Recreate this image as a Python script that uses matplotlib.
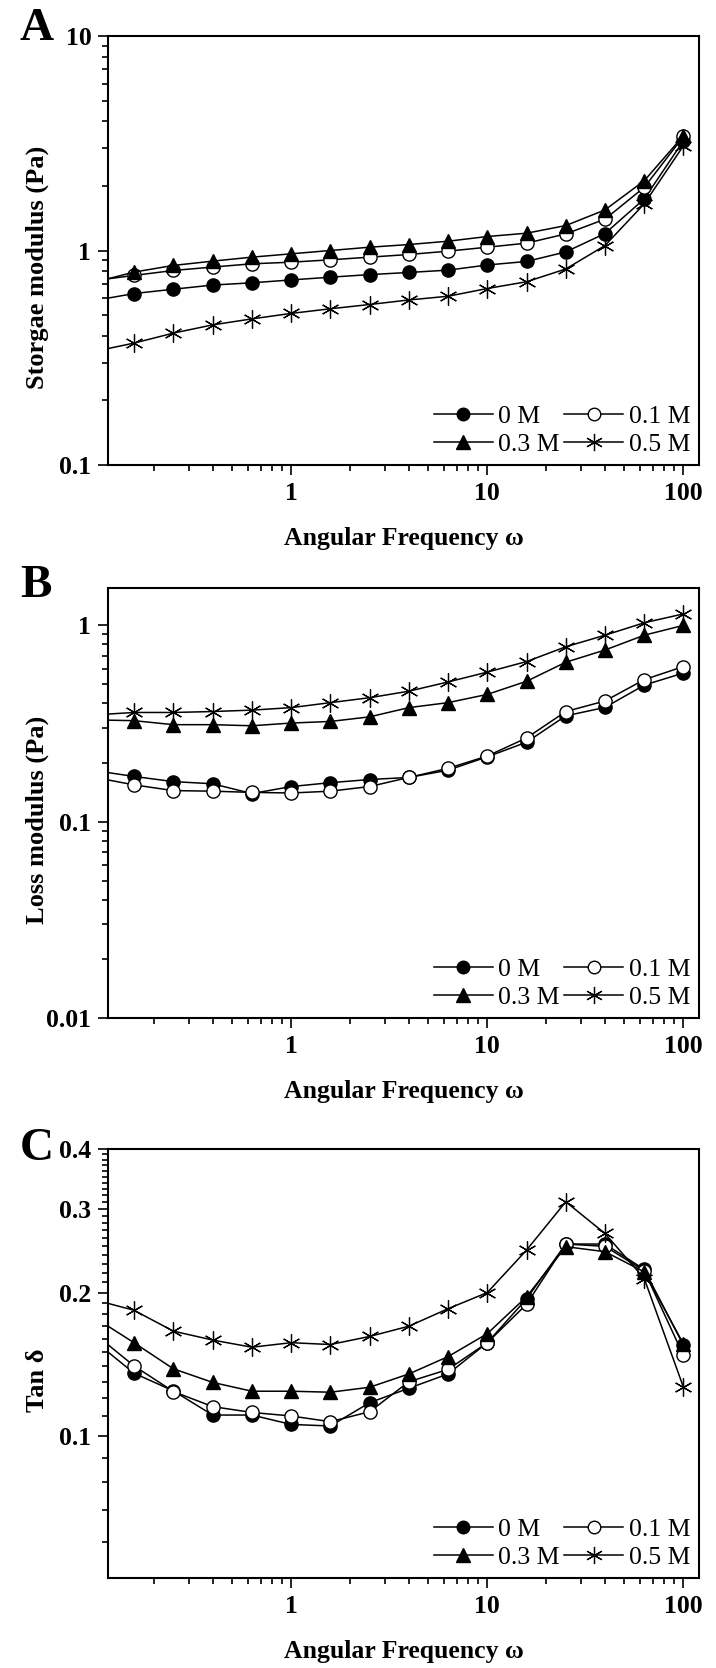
import matplotlib
matplotlib.use("Agg")
import matplotlib.pyplot as plt
from matplotlib.ticker import FixedLocator, FixedFormatter, NullFormatter

plt.rcParams['font.family'] = ['Liberation Serif', 'DejaVu Serif']

# ---------------- data ----------------
freq = [0.1, 0.158, 0.251, 0.398, 0.631, 1.0, 1.585, 2.512, 3.981, 6.31,
        10.0, 15.85, 25.12, 39.81, 63.1, 100.0]
labels = ["0 M", "0.1 M", "0.3 M", "0.5 M"]

# Storage modulus (Pa)
g1_0M = [0.585, 0.63, 0.66, 0.69, 0.707, 0.729, 0.751, 0.772, 0.79, 0.81,
         0.856, 0.889, 0.985, 1.20, 1.74, 3.25]
g1_01M = [0.725, 0.765, 0.807, 0.837, 0.867, 0.882, 0.905, 0.931, 0.958, 0.993,
          1.036, 1.082, 1.195, 1.40, 1.97, 3.40]
g1_03M = [0.712, 0.793, 0.852, 0.892, 0.931, 0.965, 1.0, 1.036, 1.066, 1.105,
          1.162, 1.204, 1.307, 1.546, 2.115, 3.43]
g1_05M = [0.339, 0.37, 0.412, 0.45, 0.48, 0.509, 0.535, 0.56, 0.588, 0.612,
          0.665, 0.715, 0.82, 1.055, 1.65, 3.08]

# Loss modulus (Pa)
g2_0M = [0.182, 0.170, 0.160, 0.156, 0.139, 0.151, 0.158, 0.164, 0.168, 0.183,
         0.214, 0.254, 0.346, 0.382, 0.496, 0.572]
g2_01M = [0.168, 0.154, 0.144, 0.143, 0.141, 0.140, 0.143, 0.151, 0.168, 0.187,
          0.216, 0.267, 0.364, 0.412, 0.529, 0.617]
g2_03M = [0.33, 0.327, 0.312, 0.312, 0.308, 0.318, 0.324, 0.342, 0.381, 0.404,
          0.445, 0.519, 0.649, 0.749, 0.891, 1.0]
g2_05M = [0.35, 0.360, 0.360, 0.364, 0.370, 0.381, 0.404, 0.428, 0.462, 0.515,
          0.578, 0.654, 0.778, 0.891, 1.031, 1.144]

# Tan delta
tan_0M = [0.158, 0.1355, 0.1244, 0.1107, 0.1107, 0.1058, 0.105, 0.1175, 0.126,
          0.135, 0.157, 0.194, 0.2528, 0.2528, 0.2236, 0.155]
tan_01M = [0.1636, 0.1404, 0.124, 0.1153, 0.1121, 0.1102, 0.1072, 0.1125, 0.130,
           0.138, 0.157, 0.189, 0.2528, 0.250, 0.2222, 0.1476]
tan_03M = [0.177, 0.157, 0.1384, 0.1296, 0.1242, 0.1242, 0.1236, 0.1266, 0.135,
           0.1468, 0.164, 0.196, 0.2496, 0.2436, 0.221, 0.156]
tan_05M = [0.193, 0.1836, 0.166, 0.159, 0.1536, 0.157, 0.1556, 0.1618, 0.170,
           0.185, 0.200, 0.2455, 0.310, 0.266, 0.214, 0.1266]

x_ticks = [1, 10, 100]
x_ticklabels = ["1", "10", "100"]
xlabel = "Angular Frequency ω"

panels = [
    dict(letter="A", ylabel="Storgae modulus (Pa)", series=[g1_0M, g1_01M, g1_03M, g1_05M],
         ylim=(0.1, 10), yticks=[0.1, 1, 10], yticklabels=["0.1", "1", "10"], yminor=None),
    dict(letter="B", ylabel="Loss modulus (Pa)", series=[g2_0M, g2_01M, g2_03M, g2_05M],
         ylim=(0.01, 1.55), yticks=[0.01, 0.1, 1], yticklabels=["0.01", "0.1", "1"], yminor=None),
    dict(letter="C", ylabel="Tan δ", series=[tan_0M, tan_01M, tan_03M, tan_05M],
         ylim=(0.0504, 0.4), yticks=[0.1, 0.2, 0.3, 0.4], yticklabels=["0.1", "0.2", "0.3", "0.4"],
         yminor=[v / 100 for v in range(6, 40) if v not in (10, 20, 30)]),
]

styles = [
    dict(marker='o', markerfacecolor='black', markeredgecolor='black', markersize=9.5),
    dict(marker='o', markerfacecolor='white', markeredgecolor='black', markersize=9.5, markeredgewidth=1.0),
    dict(marker='^', markerfacecolor='black', markeredgecolor='black', markersize=10),
    dict(marker=(6, 2, 0), markerfacecolor='black', markeredgecolor='black', markersize=13, markeredgewidth=0.9),
]

W, H = 716, 1668
fig = plt.figure(figsize=(W / 100, H / 100), dpi=100)

left_px, right_px = 108, 699
tops = [36, 588, 1149]
bottoms = [465, 1018, 1578]
letter_base = [40, 597, 1160]

tick_fs = 18.5
for i, p in enumerate(panels):
    ax = fig.add_axes([left_px / W, 1 - bottoms[i] / H, (right_px - left_px) / W,
                       (bottoms[i] - tops[i]) / H])
    handles = []
    for s, lab, st in zip(p["series"], labels, styles):
        h, = ax.plot(freq, s, color='black', linewidth=1.1, label=lab, **st)
        handles.append(h)
    ax.set_xscale('log')
    ax.set_yscale('log')
    ax.set_xlim(0.1165, 120)
    ax.set_ylim(*p["ylim"])

    ax.xaxis.set_major_locator(FixedLocator(x_ticks))
    ax.xaxis.set_major_formatter(FixedFormatter(x_ticklabels))
    ax.xaxis.set_minor_formatter(NullFormatter())
    ax.yaxis.set_major_locator(FixedLocator(p["yticks"]))
    ax.yaxis.set_major_formatter(FixedFormatter(p["yticklabels"]))
    if p["yminor"] is not None:
        ax.yaxis.set_minor_locator(FixedLocator(p["yminor"]))
    ax.yaxis.set_minor_formatter(NullFormatter())

    ax.tick_params(which='both', direction='out', top=False, right=False, width=1.2)
    ax.tick_params(which='major', length=7, labelsize=tick_fs, pad=5)
    ax.tick_params(which='minor', length=4)
    for lbl in ax.get_xticklabels() + ax.get_yticklabels():
        lbl.set_fontweight('bold')
    for sp in ax.spines.values():
        sp.set_linewidth(1.5)

    ax.set_xlabel(xlabel, fontsize=18.5, fontweight='bold')
    ax.xaxis.set_label_coords(0.5, -0.145)
    ax.set_ylabel(p["ylabel"], fontsize=19, fontweight='bold')
    ax.yaxis.set_label_coords(-0.10, 0.46)

    # legend filled column-wise: rows read "0 M, 0.1 M" / "0.3 M, 0.5 M"
    order = [0, 2, 1, 3]
    ax.legend([handles[k] for k in order], [labels[k] for k in order],
              loc='lower right', bbox_to_anchor=(0.985, 0.02), ncol=2, frameon=False,
              fontsize=18.5, handlelength=2.3, handletextpad=0.2, columnspacing=0.2,
              labelspacing=0.2, borderaxespad=0.0, borderpad=0.0, markerscale=0.95)

    fig.text(20 / W, 1 - letter_base[i] / H, p["letter"], fontsize=34, fontweight='bold',
             ha='left', va='baseline')

fig.savefig("out.png", dpi=100)
